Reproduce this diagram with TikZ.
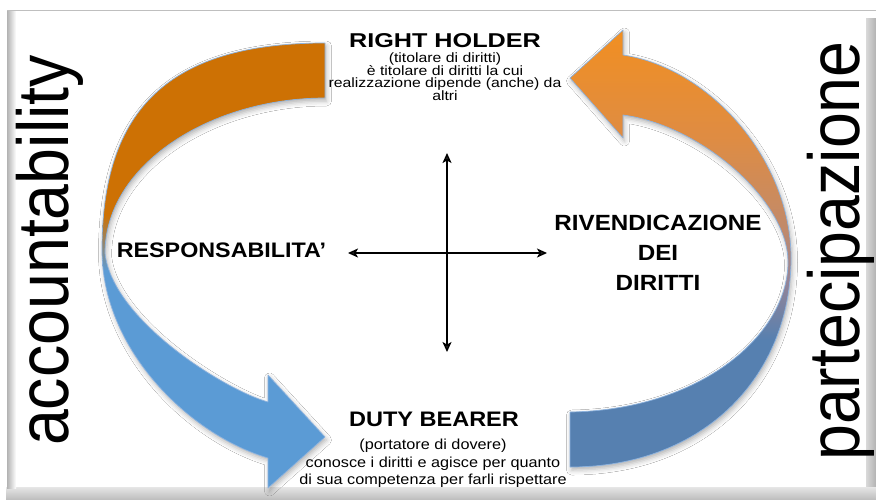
\documentclass[tikz,border=0pt]{standalone}
\usepackage{fontspec}
\setmainfont{Liberation Sans}
\usetikzlibrary{arrows.meta,shadows.blur}
\definecolor{orangeL}{RGB}{205,113,4}
\definecolor{blueL}{RGB}{91,155,213}
\definecolor{orangeRa}{RGB}{242,143,32}
\definecolor{orangeRb}{RGB}{222,140,68}
\definecolor{midRa}{RGB}{192,138,108}
\definecolor{midRb}{RGB}{150,132,150}
\definecolor{blueR}{RGB}{86,128,176}
\definecolor{edgeC}{RGB}{140,178,222}
\newcommand\mylines[1]{\vtop{\lineskiplimit=-20pt\halign{\hfil##\hfil\cr #1\crcr}}}
\def\leftArrowPath{(325,43) .. controls (168,43) and (102,110) .. (102,250)
  .. controls (102,350) and (190,435) .. (268,458) -- (268,488) -- (325,437) -- (268,375) -- (268,402)
  .. controls (225,390) and (112,320) .. (105,253) .. controls (105,165) and (210,98) .. (325,98) -- cycle}
\def\rightArrowPath{(570,467) .. controls (705,467) and (791,375) .. (791,258)
  .. controls (791,160) and (710,68) .. (623,55) -- (623,30) -- (570,78) -- (623,138) -- (623,115)
  .. controls (700,125) and (788,200) .. (788,262) .. controls (788,335) and (700,410) .. (570,412) -- cycle}
\begin{document}
\begin{tikzpicture}[x=1pt,y=-1pt,
  headline/.style={font=\fontsize{21}{24}\selectfont\bfseries, inner sep=0pt, anchor=base},
  bodytext/.style={inner sep=0pt, anchor=base},
  sidetext/.style={font=\fontsize{64.5}{70}\selectfont, rotate=90, inner sep=0pt, anchor=base},
  crossarrow/.style={{Stealth[length=10pt,width=9pt,inset=2.5pt]}-{Stealth[length=10pt,width=9pt,inset=2.5pt]}, line width=1.4pt},
  ribbonedge/.style={draw=edgeC, line width=0.7pt, line join=round},
  ribbonshadow/.style={blur shadow={shadow xshift=1.5pt, shadow yshift=-3pt, shadow blur radius=5pt, shadow opacity=30}}]

\useasboundingbox (0,0) rectangle (876,499);
\fill[white] (0,0) rectangle (876,499);

% frame (shaded edges)
\shade[left color=gray!30, right color=gray!60] (866,18) rectangle (876,490);
\shade[top color=gray!20, bottom color=gray!50] (6,487) rectangle (876,499);
\shade[left color=gray!60, right color=white] (7,10) rectangle (16,488);
\draw[gray!50, line width=1pt] (7,10) -- (876,10);

% left ribbon arrow (orange -> blue)
\path[ribbonshadow, fill=white] \leftArrowPath;
\begin{scope}
  \clip \leftArrowPath;
  \fill[orangeL] (90,30) rectangle (340,216);
  \shade[top color=orangeL, bottom color=blueL] (90,215) rectangle (340,271);
  \fill[blueL] (90,270) rectangle (340,495);
\end{scope}
\path[ribbonedge] \leftArrowPath;

% right ribbon arrow (blue -> orange)
\path[ribbonshadow, fill=white] \rightArrowPath;
\begin{scope}
  \clip \rightArrowPath;
  \shade[top color=orangeRa, bottom color=orangeRb] (560,25) rectangle (800,141);
  \shade[top color=orangeRb, bottom color=midRa] (560,140) rectangle (800,231);
  \shade[top color=midRa, bottom color=midRb] (560,230) rectangle (800,281);
  \shade[top color=midRb, bottom color=blueR] (560,280) rectangle (800,341);
  \fill[blueR] (560,340) rectangle (800,480);
\end{scope}
\path[ribbonedge] \rightArrowPath;

% central cross
\coordinate (vT) at (447,153);
\coordinate (vB) at (447,352);
\coordinate (hL) at (348,253);
\coordinate (hR) at (547,253);
\draw[crossarrow] (vT) -- (vB);
\draw[crossarrow] (hL) -- (hR);

% texts
\node[headline, font=\fontsize{20}{24}\selectfont\bfseries] (rhTitle) at (445,47.3) {\scalebox{1.26}[1]{RIGHT HOLDER}};
\node[bodytext, font=\fontsize{13.5}{12.6}\selectfont] (rhText) at (445,62.5)
  {\scalebox{1.17}[1]{\mylines{(titolare di diritti)\cr è titolare di diritti la cui\cr realizzazione dipende (anche) da\cr altri}}};

\node[headline] (dbTitle) at (434,426.7) {\scalebox{1.12}[1]{DUTY BEARER}};
\node[bodytext, font=\fontsize{14.5}{17.5}\selectfont] (dbText) at (433,449.5)
  {\scalebox{1.12}[1]{\mylines{(portatore di dovere)\cr conosce i diritti e agisce per quanto\cr di sua competenza per farli rispettare}}};

\node[headline] (resp) at (221.5,257) {\scalebox{1.11}[1]{RESPONSABILITA’}};
\node[headline, font=\fontsize{22}{30}\selectfont\bfseries] (riv) at (658,230)
  {\scalebox{1.1}[1]{\mylines{RIVENDICAZIONE\cr DEI\cr DIRITTI}}};

\node[sidetext] (acc) at (68.5,250.5) {\scalebox{1}[1.12]{accountability}};
\node[sidetext] (part) at (859,251) {\scalebox{1}[1.12]{partecipazione}};
\end{tikzpicture}
\end{document}
